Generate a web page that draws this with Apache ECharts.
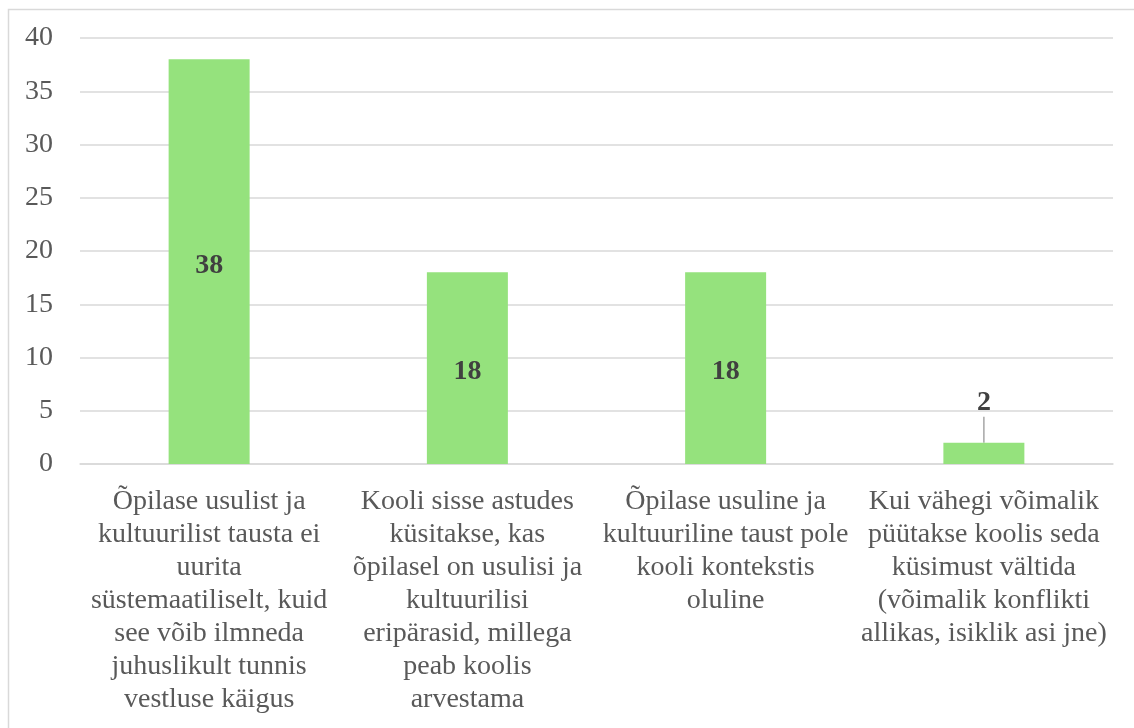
<!DOCTYPE html>
<html>
<head>
<meta charset="utf-8">
<script src="https://cdn.jsdelivr.net/npm/echarts@6/dist/echarts.min.js"></script>
<style>
  html, body { margin: 0; padding: 0; background: #fff; }
  #charts { width: 1134px; height: 728px; }
</style>
</head>
<body>
<div id="charts"></div>
<script>
  // kategooriad (ridade murdmine nagu originaalis)
  var categories = [
    'Õpilase usulist ja\nkultuurilist tausta ei\nuurita\nsüstemaatiliselt, kuid\nsee võib ilmneda\njuhuslikult tunnis\nvestluse käigus',
    'Kooli sisse astudes\nküsitakse, kas\nõpilasel on usulisi ja\nkultuurilisi\neripärasid, millega\npeab koolis\narvestama',
    'Õpilase usuline ja\nkultuuriline taust pole\nkooli kontekstis\noluline',
    'Kui vähegi võimalik\npüütakse koolis seda\nküsimust vältida\n(võimalik konflikti\nallikas, isiklik asi jne)'
  ];
  var values = [38, 18, 18, 2];
  var yTicks = [0, 5, 10, 15, 20, 25, 30, 35, 40];

  var serif = '"Liberation Serif", "DejaVu Serif", serif';

  var myChart = echarts.init(document.getElementById('charts'));

  var seriesData = values.map(function (v) {
    if (v < 5) {
      // väike tulp: silt üleval, juhtjoonega
      return { value: v, label: { position: 'top', distance: 5 } };
    }
    return v;
  });

  var option = {
    backgroundColor: '#fff',
    animation: false,
    graphic: [{
      type: 'rect',
      shape: { x: 8.5, y: 9.5, width: 1140, height: 730 },
      style: { fill: 'none', stroke: '#d9d9d9', lineWidth: 1.5 },
      silent: true
    }],
    grid: {
      left: 80,
      right: 21,
      top: 38,
      bottom: 264
    },
    xAxis: {
      type: 'category',
      data: categories,
      axisLine: { show: true, lineStyle: { color: '#d9d9d9', width: 1.5 } },
      axisTick: { show: false },
      axisLabel: {
        interval: 0,
        margin: 21,
        color: '#595959',
        fontFamily: serif,
        fontSize: 28,
        lineHeight: 33,
        align: 'center'
      }
    },
    yAxis: {
      type: 'value',
      min: yTicks[0],
      max: yTicks[yTicks.length - 1],
      interval: 5,
      axisLine: { show: false },
      axisTick: { show: false },
      splitLine: { lineStyle: { color: '#d9d9d9', width: 1.5 } },
      axisLabel: {
        margin: 27,
        color: '#595959',
        fontFamily: serif,
        fontSize: 28
      }
    },
    series: [{
      type: 'bar',
      data: seriesData,
      barWidth: 81,
      itemStyle: { color: '#95e27d' },
      label: {
        show: true,
        position: 'inside',
        color: '#404040',
        fontFamily: serif,
        fontWeight: 'bold',
        fontSize: 28
      },
      labelLayout: function (params) {
        if (values[params.dataIndex] < 5) {
          return { dy: -21 };
        }
        return { dy: 4 };
      },
      labelLine: {
        show: true,
        lineStyle: { color: '#a6a6a6', width: 1.5 }
      }
    }]
  };
  myChart.setOption(option);
</script>
</body>
</html>
